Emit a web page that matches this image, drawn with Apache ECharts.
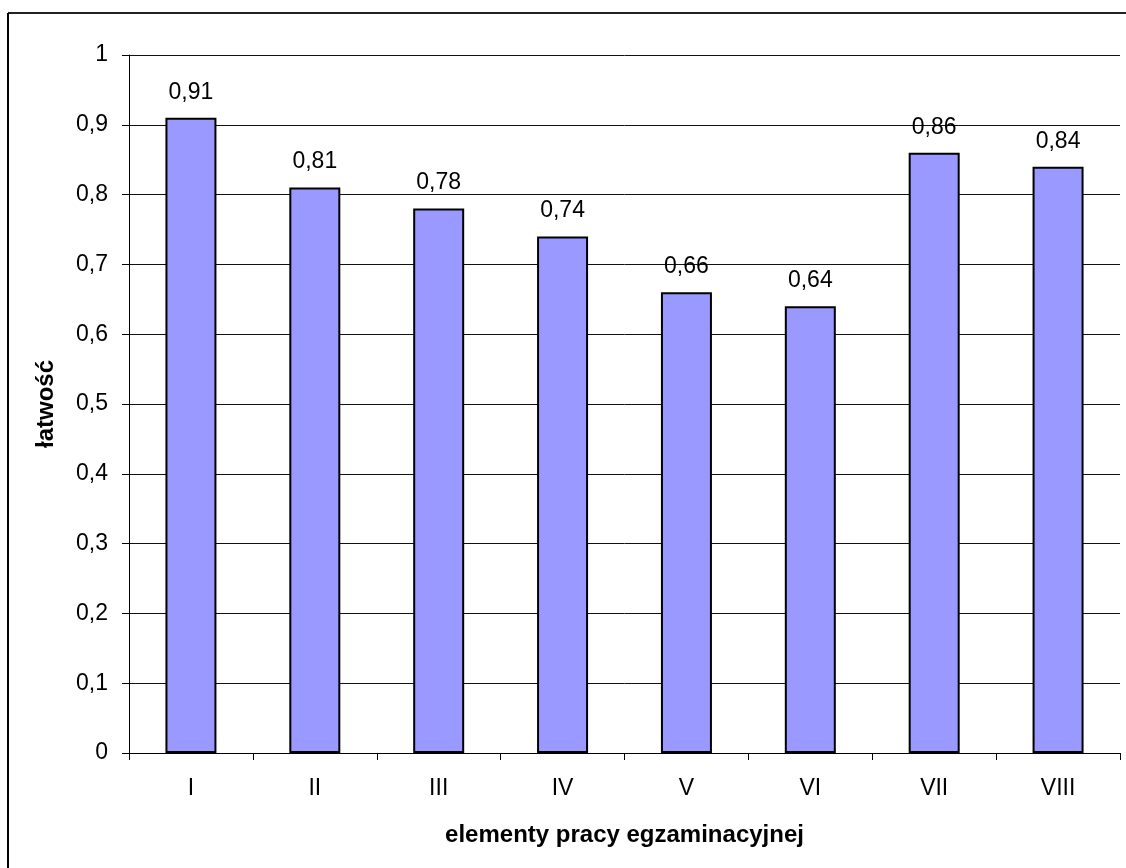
<!DOCTYPE html>
<html><head><meta charset="utf-8">
<script src="https://cdn.jsdelivr.net/npm/echarts@6/dist/echarts.min.js"></script>
<style>html,body{margin:0;padding:0;background:#fff}#c{width:1126px;height:868px}</style>
</head><body><div id="c"></div>
<script>
const categories = ['I','II','III','IV','V','VI','VII','VIII'];
const values = [0.91,0.81,0.78,0.74,0.66,0.64,0.86,0.84];
const yTitle = 'łatwość';
const xTitle = 'elementy pracy egzaminacyjnej';
const fmt = v => String(v).replace('.', ',');
const chart = echarts.init(document.getElementById('c'));
chart.setOption({
  backgroundColor: '#fff',
  animation: false,
  textStyle: { fontFamily: 'Liberation Sans, Arial, sans-serif' },
  graphic: [
    { type: 'line', shape: { x1: 8, y1: 13, x2: 1126, y2: 13 }, style: { stroke: '#222', lineWidth: 2 } },
    { type: 'line', shape: { x1: 8, y1: 13, x2: 8, y2: 868 }, style: { stroke: '#000', lineWidth: 2 } }
  ],
  grid: { left: 129, right: 6, top: 55, bottom: 115, containLabel: false },
  xAxis: {
    type: 'category', data: categories,
    name: xTitle, nameLocation: 'middle', nameGap: 70,
    nameTextStyle: { fontSize: 24, fontWeight: 'bold', color: '#000' },
    axisLine: { lineStyle: { color: '#000', width: 1 } },
    axisTick: { show: true, alignWithLabel: false, length: 7, lineStyle: { color: '#000' } },
    axisLabel: { fontSize: 23, color: '#000', margin: 24 }
  },
  yAxis: {
    type: 'value', min: 0, max: 1, interval: 0.1,
    name: yTitle, nameLocation: 'middle', nameGap: 71, nameRotate: 90,
    nameTextStyle: { fontSize: 24, fontWeight: 'bold', color: '#000' },
    axisLine: { show: true, lineStyle: { color: '#000', width: 1 } },
    axisTick: { show: true, length: 7, lineStyle: { color: '#000' } },
    axisLabel: { fontSize: 23, color: '#000', margin: 21, formatter: v => fmt(Math.round(v*10)/10) },
    splitLine: { show: true, lineStyle: { color: '#111', width: 1 } }
  },
  series: [{
    type: 'bar', data: values, barWidth: 51,
    itemStyle: { color: '#9999FF', borderColor: '#000', borderWidth: 2 },
    label: { show: true, position: 'top', distance: 14, fontSize: 23, color: '#000', formatter: p => fmt(p.value) }
  }]
});
</script></body></html>
